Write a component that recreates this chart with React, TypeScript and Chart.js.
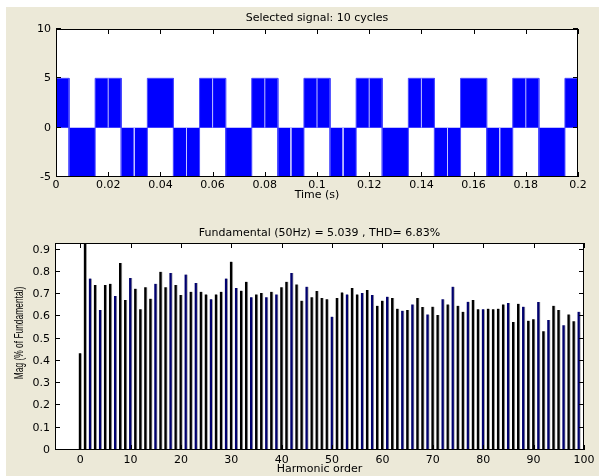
import React, { useEffect, useRef } from 'react';
import { Chart, registerables } from 'chart.js';

Chart.register(...registerables);

// ---------- Top subplot: selected signal ----------
const signalTitle = 'Selected signal: 10 cycles';
const signalXLabel = 'Time (s)';
const initialSample = 10; // first sample at t = 0
const bandEdges = [0, 0.005, 0.015, 0.025, 0.035, 0.045, 0.055, 0.065, 0.075, 0.085, 0.095, 0.105, 0.115, 0.125, 0.135, 0.145, 0.155, 0.165, 0.175, 0.185, 0.195, 0.2];
const bandLevels = [5, -5, 5, -5, 5, -5, 5, -5, 5, -5, 5, -5, 5, -5, 5, -5, 5, -5, 5, -5, 5];
const gapTimes = [0.02, 0.03, 0.05, 0.06, 0.08, 0.09, 0.1, 0.11, 0.12, 0.14, 0.15, 0.17, 0.18];
const timeTicks = [0, 0.02, 0.04, 0.06, 0.08, 0.1, 0.12, 0.14, 0.16, 0.18, 0.2];
const signalTicks = [-5, 0, 5, 10];

// ---------- Bottom subplot: harmonic spectrum ----------
const spectrumTitle = 'Fundamental (50Hz) = 5.039 , THD= 6.83%';
const spectrumXLabel = 'Harmonic order';
const spectrumYLabel = 'Mag (% of Fundamental)';
const harmonicMag = [
  0.435, 100, 0.770, 0.741, 0.629, 0.741, 0.747, 0.692, 0.840, 0.674,
  0.773, 0.725, 0.632, 0.731, 0.680, 0.747, 0.801, 0.731, 0.795, 0.741,
  0.696, 0.788, 0.711, 0.750, 0.711, 0.699, 0.677, 0.699, 0.711, 0.770,
  0.846, 0.728, 0.716, 0.756, 0.686, 0.699, 0.705, 0.686, 0.711, 0.699,
  0.731, 0.756, 0.795, 0.744, 0.671, 0.734, 0.686, 0.714, 0.683, 0.677,
  0.599, 0.683, 0.708, 0.699, 0.728, 0.699, 0.705, 0.719, 0.696, 0.648,
  0.671, 0.689, 0.683, 0.635, 0.626, 0.629, 0.654, 0.683, 0.642, 0.609,
  0.644, 0.606, 0.677, 0.654, 0.734, 0.648, 0.621, 0.666, 0.674, 0.632,
  0.632, 0.635, 0.632, 0.635, 0.654, 0.660, 0.575, 0.657, 0.644, 0.581,
  0.587, 0.665, 0.533, 0.584, 0.648, 0.629, 0.561, 0.609, 0.578, 0.621,
];
const navyHarmonics = [2, 4, 7, 10, 15, 18, 21, 23, 26, 29, 31, 34, 37, 39, 42, 45, 50, 53, 56, 58, 61, 64, 66, 69, 72, 74, 77, 80, 85, 88, 91, 93, 96, 99];
const harmonicTicks = [0, 10, 20, 30, 40, 50, 60, 70, 80, 90, 100];
const magTicks = [0, 0.1, 0.2, 0.3, 0.4, 0.5, 0.6, 0.7, 0.8, 0.9];

const FONT = "'DejaVu Sans', sans-serif";
const fontSpec = { family: FONT, size: 11 };

const framePlugin = {
  id: 'matlabFrame',
  beforeDraw(chart: any) {
    const { ctx, chartArea: a } = chart;
    ctx.save();
    ctx.fillStyle = '#ffffff';
    ctx.fillRect(a.left, a.top, a.right - a.left, a.bottom - a.top);
    ctx.restore();
  },
  afterDraw(chart: any, _args: any, opts: any) {
    const { ctx, chartArea: a, scales } = chart;
    ctx.save();
    ctx.strokeStyle = '#000';
    ctx.lineWidth = 1;
    const tl = 5;
    ctx.beginPath();
    scales.x.ticks.forEach((t: any) => {
      const px = Math.round(scales.x.getPixelForValue(t.value)) + 0.5;
      ctx.moveTo(px, a.top); ctx.lineTo(px, a.top + tl);
      ctx.moveTo(px, a.bottom); ctx.lineTo(px, a.bottom - tl);
    });
    scales.y.ticks.forEach((t: any) => {
      const py = Math.round(scales.y.getPixelForValue(t.value)) - 0.5;
      ctx.moveTo(a.left, py); ctx.lineTo(a.left + tl, py);
      ctx.moveTo(a.right, py); ctx.lineTo(a.right - tl, py);
    });
    ctx.stroke();
    ctx.strokeRect(Math.round(a.left) + 0.5, Math.round(a.top) + 0.5,
      Math.round(a.right - a.left) - 1, Math.round(a.bottom - a.top) - 1);

    ctx.fillStyle = '#000';
    ctx.font = `11px ${FONT}`;
    ctx.textAlign = 'center';
    ctx.textBaseline = 'middle';
    const cx = (a.left + a.right) / 2;
    if (opts.title) ctx.fillText(opts.title, cx, opts.titleY);
    if (opts.xlabel) ctx.fillText(opts.xlabel, cx, opts.xlabelY);
    if (opts.ylabel) {
      ctx.save();
      ctx.translate(opts.ylabelX, opts.ylabelY);
      ctx.rotate(-Math.PI / 2);
      ctx.scale(0.7, 1);
      ctx.font = `12px 'Liberation Sans', Arial, sans-serif`;
      ctx.fillText(opts.ylabel, 0, 0);
      ctx.restore();
    }
    ctx.restore();
  },
};

function levelAt(t: number) {
  for (let i = 0; i < bandLevels.length; i++) {
    if (t >= bandEdges[i] && t <= bandEdges[i + 1]) return bandLevels[i];
  }
  return 0;
}

export default function App() {
  const topRef = useRef<HTMLCanvasElement>(null);
  const botRef = useRef<HTMLCanvasElement>(null);

  useEffect(() => {
    document.body.style.margin = '0';

    const signalPoints: { x: number; y: number }[] = [{ x: 0, y: initialSample }];
    bandLevels.forEach((lvl, i) => {
      signalPoints.push({ x: bandEdges[i], y: 0 });
      signalPoints.push({ x: bandEdges[i], y: lvl });
      signalPoints.push({ x: bandEdges[i + 1], y: lvl });
      signalPoints.push({ x: bandEdges[i + 1], y: 0 });
    });
    const gapPoints: { x: number; y: number | null }[] = [];
    gapTimes.forEach((g) => {
      gapPoints.push({ x: g, y: 0 });
      gapPoints.push({ x: g, y: levelAt(g) });
      gapPoints.push({ x: g, y: null });
    });

    const axisCommon = {
      grid: { display: false, drawTicks: false },
      border: { display: false },
    };

    const top = new Chart(topRef.current as HTMLCanvasElement, {
      type: 'line',
      data: {
        datasets: [
          {
            data: signalPoints as any,
            borderColor: '#4a4aff',
            borderWidth: 1,
            backgroundColor: '#0000ff',
            fill: 'origin',
            pointRadius: 0,
            tension: 0,
            order: 2,
            clip: 0,
          } as any,
          {
            data: gapPoints as any,
            borderColor: '#c4c4ff',
            borderWidth: 1,
            pointRadius: 0,
            fill: false,
            spanGaps: false,
            order: 1,
            clip: 0,
          } as any,
        ],
      },
      options: {
        responsive: false,
        animation: false,
        devicePixelRatio: 1,
        events: [],
        layout: { padding: { left: 0, right: 21, top: 29, bottom: 0 } },
        plugins: {
          legend: { display: false },
          tooltip: { enabled: false },
          title: { display: false },
          matlabFrame: { title: signalTitle, titleY: 18, xlabel: signalXLabel, xlabelY: 195 },
        } as any,
        scales: {
          x: {
            type: 'linear', min: 0, max: 0.2, ...axisCommon,
            ticks: { padding: 2, autoSkip: false, maxRotation: 0, color: '#000', font: fontSpec,
              callback: (v: any) => String(+Number(v).toFixed(3)) },
            afterBuildTicks: (s: any) => { s.ticks = timeTicks.map((v) => ({ value: v })); },
            afterFit: (s: any) => { s.height = 33; },
          },
          y: {
            type: 'linear', min: -5, max: 10, ...axisCommon,
            ticks: { padding: 5, autoSkip: false, color: '#000', font: fontSpec,
              callback: (v: any) => String(v) },
            afterBuildTicks: (s: any) => { s.ticks = signalTicks.map((v) => ({ value: v })); },
            afterFit: (s: any) => { s.width = 56; },
          },
        } as any,
      },
      plugins: [framePlugin],
    });

    const bot = new Chart(botRef.current as HTMLCanvasElement, {
      type: 'bar',
      data: {
        datasets: [
          {
            data: harmonicMag.map((m, h) => ({ x: h, y: m })) as any,
            backgroundColor: harmonicMag.map((_, h) => (navyHarmonics.includes(h) ? '#00006e' : '#000000')),
            borderColor: '#a8a8a8',
            borderWidth: { top: 0, right: 1, bottom: 0, left: 0 },
            borderSkipped: false,
            barThickness: 3,
            clip: 0,
          } as any,
        ],
      },
      options: {
        responsive: false,
        animation: false,
        devicePixelRatio: 1,
        events: [],
        layout: { padding: { left: 0, right: 15, top: 33, bottom: 0 } },
        plugins: {
          legend: { display: false },
          tooltip: { enabled: false },
          title: { display: false },
          matlabFrame: { title: spectrumTitle, titleY: 23, xlabel: spectrumXLabel, xlabelY: 259,
            ylabel: spectrumYLabel, ylabelX: 20, ylabelY: 123 },
        } as any,
        scales: {
          x: {
            type: 'linear', min: -5, max: 100, offset: false, ...axisCommon,
            ticks: { padding: 4, autoSkip: false, maxRotation: 0, color: '#000', font: fontSpec,
              callback: (v: any) => String(v) },
            afterBuildTicks: (s: any) => { s.ticks = harmonicTicks.map((v) => ({ value: v })); },
            afterFit: (s: any) => { s.height = 26; },
          },
          y: {
            type: 'linear', min: 0, max: 0.93, ...axisCommon,
            ticks: { padding: 5, autoSkip: false, color: '#000', font: fontSpec,
              callback: (v: any) => String(+Number(v).toFixed(1)) },
            afterBuildTicks: (s: any) => { s.ticks = magTicks.map((v) => ({ value: v })); },
            afterFit: (s: any) => { s.width = 55; },
          },
        } as any,
      },
      plugins: [framePlugin],
    });

    return () => { top.destroy(); bot.destroy(); };
  }, []);

  return (
    <div style={{ position: 'absolute', left: 0, top: 0, width: 599, height: 476, background: '#ffffff', overflow: 'hidden' }}>
      <div style={{ position: 'absolute', left: 6, top: 7, right: 0, bottom: 0, background: '#ECE9D8' }} />
      <canvas ref={topRef} width={599} height={210} style={{ position: 'absolute', left: 0, top: 0 }} />
      <canvas ref={botRef} width={599} height={266} style={{ position: 'absolute', left: 0, top: 210 }} />
    </div>
  );
}
